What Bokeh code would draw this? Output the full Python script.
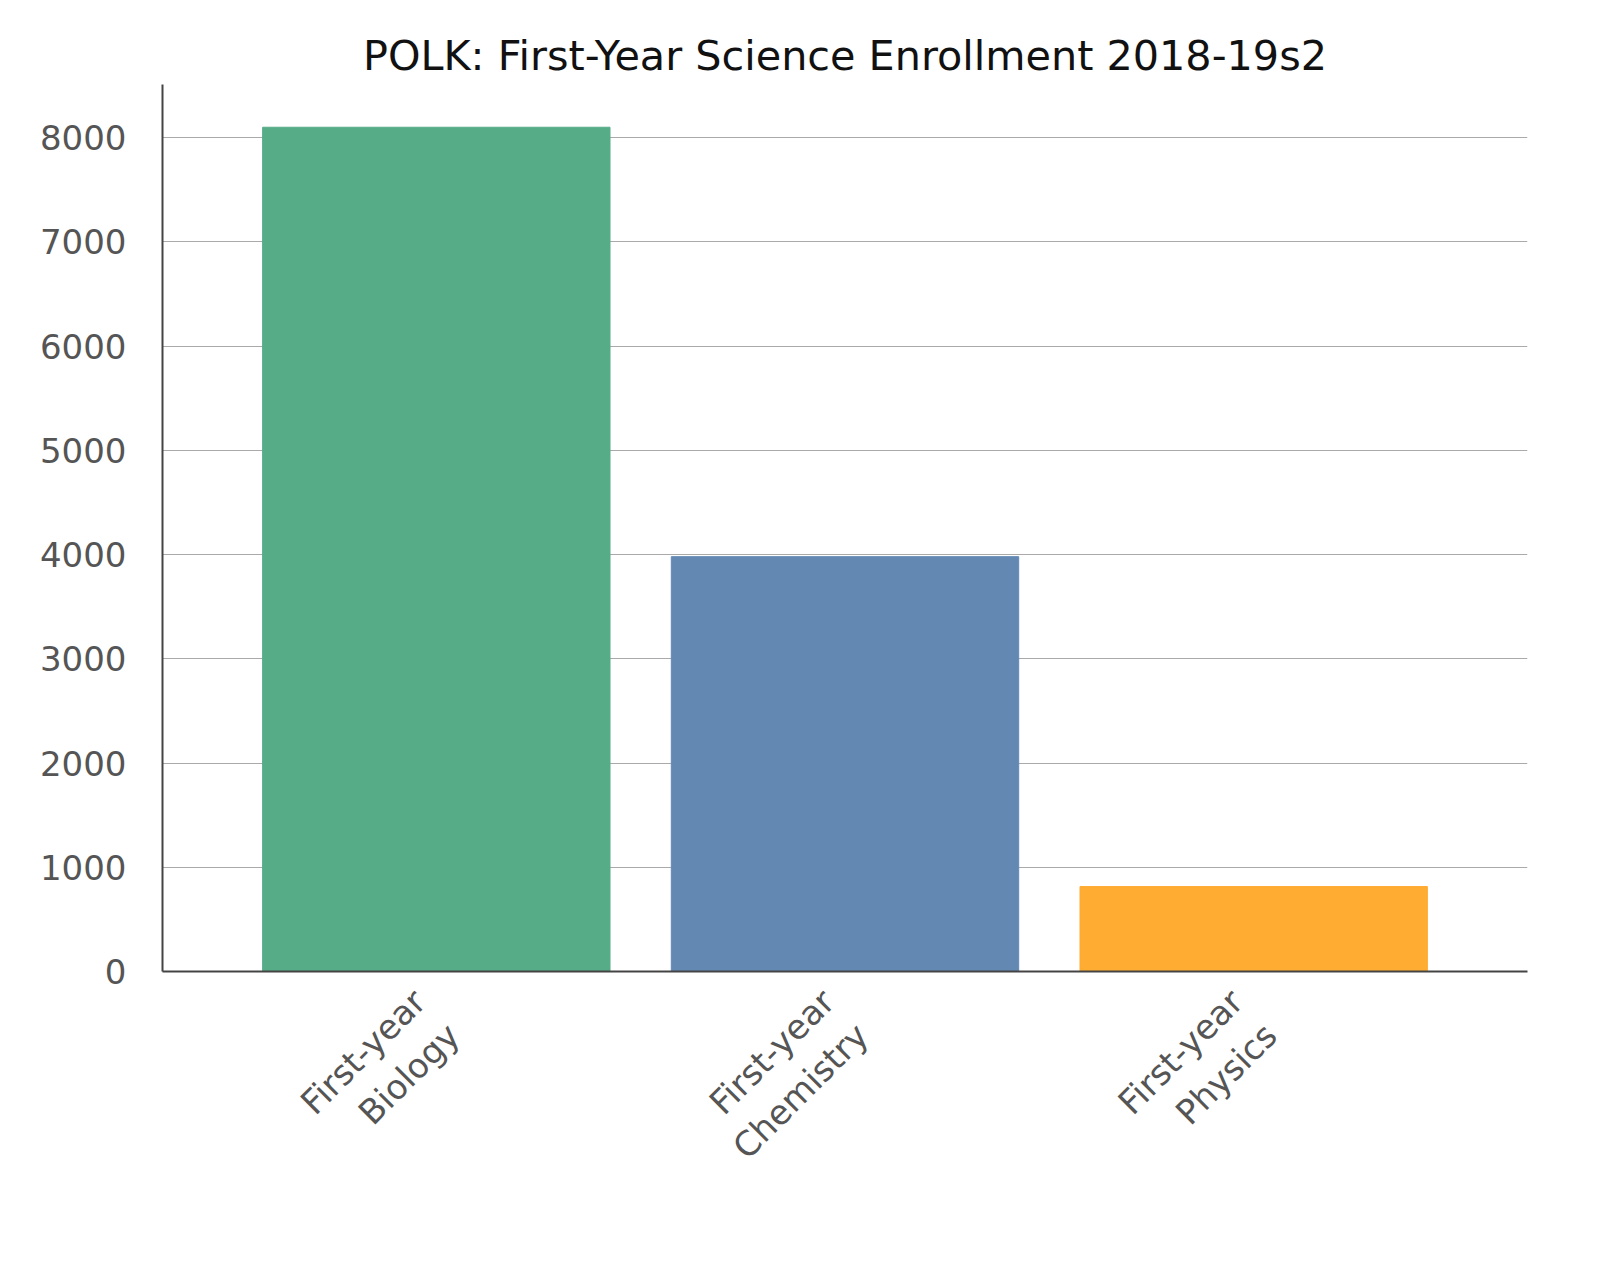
from bokeh.embed import file_html
from bokeh.resources import INLINE
from bokeh.models import ColumnDataSource, FixedTicker, Range1d
from bokeh.plotting import figure

# Data
categories = ["First-year\nBiology", "First-year\nChemistry", "First-year\nPhysics"]
enrollment = [8100, 3980, 815]
colors = ["#57ac88", "#6389b3", "#ffac33"]
y_ticks = [0, 1000, 2000, 3000, 4000, 5000, 6000, 7000, 8000]

xs = list(range(len(categories)))
source = ColumnDataSource(data={"x": xs, "top": enrollment, "color": colors})

p = figure(
    frame_width=1365,
    frame_height=887,
    title="POLK: First-Year Science Enrollment 2018-19s2",
    x_range=Range1d(-0.67, 2.67),
    y_range=Range1d(0, 8510),
    output_backend="svg",
    toolbar_location=None,
    min_border_left=162,
    min_border_right=53,
    min_border_bottom=260,
    min_border_top=84,
)

p.vbar(x="x", top="top", width=0.85, color="color", source=source)

FONT = "DejaVu Sans"
p.title.text_font = FONT
p.title.text_font_size = "31pt"
p.title.text_font_style = "normal"
p.title.align = "center"
p.title.text_color = "#111111"

p.xaxis.ticker = FixedTicker(ticks=xs)
p.xaxis.major_label_overrides = {i: c for i, c in zip(xs, categories)}
p.xaxis.major_label_orientation = 0.785
p.yaxis.ticker = FixedTicker(ticks=y_ticks)

for ax in (p.xaxis, p.yaxis):
    ax.major_label_text_font = FONT
    ax.major_label_text_font_size = "34px"
    ax.major_label_text_color = "#555555"
    ax.axis_line_color = "#444444"
    ax.axis_line_width = 2
    ax.major_tick_line_color = None
    ax.minor_tick_line_color = None
p.xaxis.major_label_standoff = 35
p.yaxis.major_label_standoff = 30

p.xgrid.grid_line_color = None
p.ygrid.grid_line_color = "#aaaaaa"
p.ygrid.grid_line_width = 1
p.outline_line_color = None

open("out.html", "w").write(file_html(p, INLINE))
